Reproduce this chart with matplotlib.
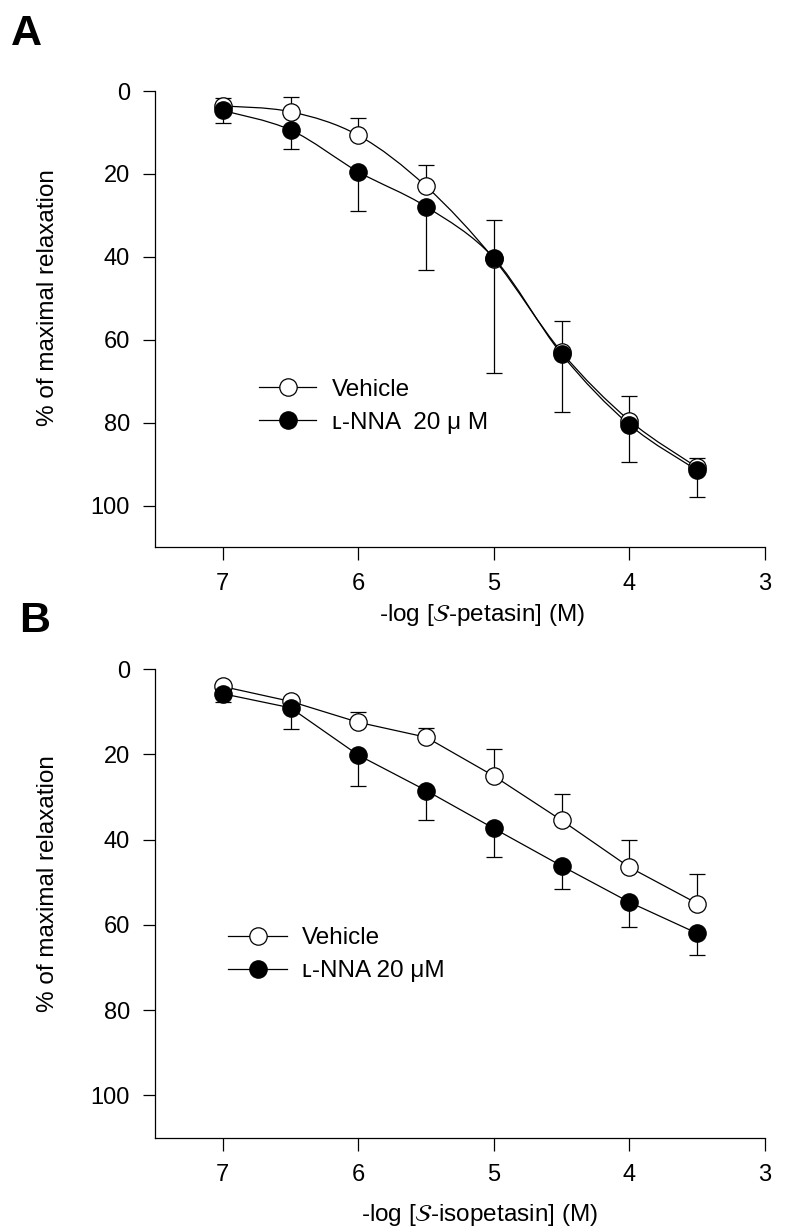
import matplotlib
matplotlib.use("Agg")
import matplotlib.pyplot as plt
from matplotlib.path import Path
from matplotlib.patches import PathPatch
from matplotlib.lines import Line2D
import numpy as np

plt.rcParams['font.family'] = ['Liberation Sans', 'DejaVu Sans']
plt.rcParams['mathtext.fontset'] = 'dejavusans'

# ---- data ----
log_conc = [7.0, 6.5, 6.0, 5.5, 5.0, 4.5, 4.0, 3.5]

a_vehicle = [3.6, 5.0, 10.7, 23.0, 40.5, 63.0, 79.5, 90.8]
a_vehicle_err = [1.8, 3.5, 4.3, 5.1, 9.5, 7.5, 6.0, 2.3]
a_lnna = [4.7, 9.4, 19.5, 27.9, 40.3, 63.5, 80.5, 91.5]
a_lnna_err = [3.1, 4.5, 9.4, 15.2, 27.7, 14.0, 9.0, 6.5]

b_vehicle = [4.1, 7.6, 12.5, 16.0, 25.1, 35.5, 46.5, 55.0]
b_vehicle_err = [0.5, 0.5, 2.4, 2.1, 6.3, 6.1, 6.5, 6.9]
b_lnna = [5.8, 9.1, 20.2, 28.5, 37.4, 46.2, 54.7, 62.0]
b_lnna_err = [1.9, 4.9, 7.2, 6.8, 6.6, 5.4, 5.8, 5.1]

yticks = [0, 20, 40, 60, 80, 100]
xticks = [7, 6, 5, 4, 3]
legend_labels_a = ['Vehicle', '\u029f-NNA  20 \u03bc M']
legend_labels_b = ['Vehicle', '\u029f-NNA 20 \u03bcM']

W, H = 795, 1230
fig = plt.figure(figsize=(W / 100, H / 100), dpi=100)


def fx(px):
    return px / W


def fy(py):
    return 1 - py / H


axA = fig.add_axes([fx(155), fy(547), fx(765) - fx(155), fy(91) - fy(547)])
axB = fig.add_axes([fx(155), fy(1138), fx(765) - fx(155), fy(669) - fy(1138)])

LW = 0.9
MS = 12.5
FS = 17


def smooth_path(x, y):
    pts = np.column_stack([x, y])
    n = len(pts)
    verts = [pts[0]]
    codes = [Path.MOVETO]
    for i in range(n - 1):
        p0 = pts[i - 1] if i > 0 else pts[i]
        p1 = pts[i]
        p2 = pts[i + 1]
        p3 = pts[i + 2] if i + 2 < n else pts[i + 1]
        c1 = p1 + (p2 - p0) / 6.0
        c2 = p2 - (p3 - p1) / 6.0
        verts += [c1, c2, p2]
        codes += [Path.CURVE4] * 3
    return Path(verts, codes)


def style_axes(ax):
    ax.set_xlim(7.5, 3)
    ax.set_ylim(110, 0)
    ax.set_xticks(xticks)
    ax.set_yticks(yticks)
    for s in ['top', 'right']:
        ax.spines[s].set_visible(False)
    for s in ['left', 'bottom']:
        ax.spines[s].set_linewidth(LW)
    ax.tick_params(direction='out', length=9, width=LW, labelsize=FS)
    ax.tick_params(axis='y', pad=9)
    ax.tick_params(axis='x', pad=9.5)


def draw_series(ax, x, y, err, filled, smooth):
    lower = [0] * len(err)
    yerr = [lower, err] if filled else [err, lower]
    ax.errorbar(x, y, yerr=yerr, fmt='none', ecolor='black', elinewidth=LW,
                capsize=6, capthick=LW, zorder=2)
    if smooth:
        ax.add_patch(PathPatch(smooth_path(x, y), fill=False, lw=LW,
                               edgecolor='black', zorder=3))
    else:
        ax.plot(x, y, color='black', lw=LW, zorder=3)
    ax.plot(x, y, linestyle='none', marker='o', markersize=MS,
            markerfacecolor='black' if filled else 'white',
            markeredgecolor='black', markeredgewidth=LW, zorder=4)


def manual_legend(labels, x0, x1, xm, xt, rows):
    for lab, yrow, filled in zip(labels, rows, [False, True]):
        fig.add_artist(Line2D([fx(x0), fx(x1)], [fy(yrow), fy(yrow)],
                              transform=fig.transFigure, color='black', lw=LW))
        fig.add_artist(Line2D([fx(xm)], [fy(yrow)], transform=fig.transFigure,
                              linestyle='none', marker='o', markersize=MS,
                              markerfacecolor='black' if filled else 'white',
                              markeredgecolor='black', markeredgewidth=LW))
        fig.text(fx(xt), fy(yrow + 8.5), lab, fontsize=FS + 0.5,
                 ha='left', va='baseline')


# Panel A
draw_series(axA, log_conc, a_vehicle, a_vehicle_err, False, True)
draw_series(axA, log_conc, a_lnna, a_lnna_err, True, True)
style_axes(axA)

# Panel B
draw_series(axB, log_conc, b_vehicle, b_vehicle_err, False, False)
draw_series(axB, log_conc, b_lnna, b_lnna_err, True, False)
style_axes(axB)

manual_legend(legend_labels_a, 259, 316, 288, 332, [387, 420])
manual_legend(legend_labels_b, 228, 287, 258, 302, [936, 969])

# axis labels
fig.text(fx(48), fy(298), '% of maximal relaxation', fontsize=FS + 0.5,
         rotation=90, ha='center', va='center')
fig.text(fx(48), fy(884), '% of maximal relaxation', fontsize=FS + 0.5,
         rotation=90, ha='center', va='center')
fig.text(fx(482), fy(621), r'-log [$\mathcal{S}$-petasin] (M)', fontsize=FS + 0.5,
         ha='center', va='baseline')
fig.text(fx(479), fy(1221), r'-log [$\mathcal{S}$-isopetasin] (M)', fontsize=FS + 0.5,
         ha='center', va='baseline')

fig.text(fx(11), fy(45), 'A', fontsize=31, fontweight='bold', va='baseline')
fig.text(fx(19), fy(632), 'B', fontsize=31, fontweight='bold', va='baseline')

fig.savefig('out.png', dpi=100)
